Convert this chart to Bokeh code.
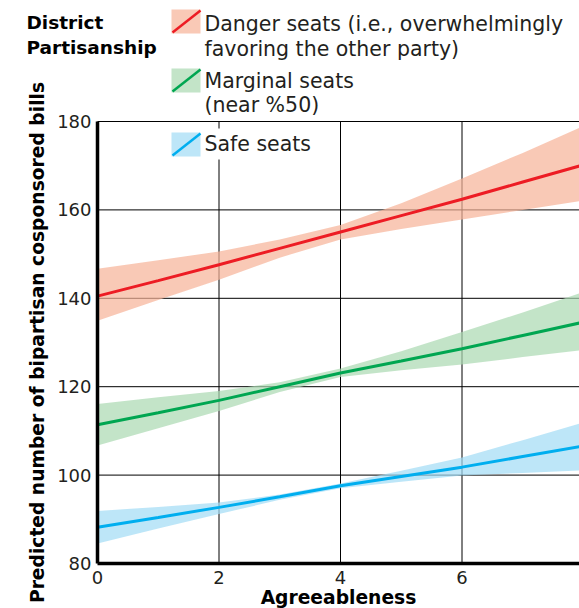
from bokeh.plotting import figure
from bokeh.models import Range1d, Label, BoxAnnotation, Arrow, FixedTicker
from bokeh.embed import file_html
from bokeh.resources import INLINE

# ---- data ----
agreeableness = [0, 1, 2, 3, 4, 5, 6, 7, 8]

danger_fit = [140.5, 144.0, 147.6, 151.3, 155.0, 158.7, 162.4, 166.3, 170.2]
danger_hi = [146.7, 148.6, 150.6, 153.3, 156.6, 161.5, 167.1, 172.9, 179.0]
danger_lo = [134.9, 139.6, 144.2, 149.2, 153.3, 155.7, 157.8, 160.0, 162.1]

marginal_fit = [111.4, 114.1, 116.9, 120.0, 123.1, 125.8, 128.6, 131.6, 134.6]
marginal_hi = [116.1, 117.6, 119.0, 121.0, 124.1, 128.0, 132.4, 136.8, 141.4]
marginal_lo = [106.7, 110.6, 114.5, 118.8, 122.2, 123.7, 125.0, 126.7, 128.3]

safe_fit = [88.2, 90.4, 92.7, 95.1, 97.6, 99.7, 101.8, 104.2, 106.6]
safe_hi = [91.9, 92.8, 93.8, 95.6, 98.1, 101.0, 104.0, 107.9, 111.9]
safe_lo = [84.5, 87.9, 91.2, 94.4, 97.0, 98.5, 99.9, 100.5, 101.1]

x_ticks = [0, 2, 4, 6, 8]
y_ticks = [80, 100, 120, 140, 160, 180]

legend_title = ["District", "Partisanship"]
legend_labels = [
    ["Danger seats (i.e., overwhelmingly", "favoring the other party)"],
    ["Marginal seats", "(near %50)"],
    ["Safe seats"],
]

line_colors = ["#ED1C24", "#00A651", "#00AEEF"]
band_colors = ["#F6B297", "#A9D8B0", "#A1DBF5"]
BAND_ALPHA = 0.7

FONT = "DejaVu Sans"
INK = "#231F20"

# ---- geometry (canvas px) ----
W, H = 579, 608
AX_X0_PX = 97.0      # where x = 0 sits
PX_PER_X = 60.75
AX_Y80_PX = 563.0    # where y = 80 sits
PX_PER_Y = 4.42
TEXT_SHIFT = 6.5     # label baseline correction

x_start = (0 - AX_X0_PX) / PX_PER_X
x_end = (W - AX_X0_PX) / PX_PER_X
y_start = 80 - (H - AX_Y80_PX) / PX_PER_Y
y_end = 80 + AX_Y80_PX / PX_PER_Y


def dx(px):
    return (px - AX_X0_PX) / PX_PER_X


def dy(py):
    return 80 + (AX_Y80_PX - py) / PX_PER_Y


p = figure(width=W, height=H, output_backend="svg", toolbar_location=None,
           x_range=Range1d(x_start, x_end), y_range=Range1d(y_start, y_end),
           min_border_left=0, min_border_right=0, min_border_top=0, min_border_bottom=0,
           title_location=None)
p.outline_line_color = None
p.background_fill_color = "white"
p.border_fill_color = "white"
p.xgrid.visible = False
p.ygrid.visible = False

# axes fixed at x = 0 and y = 80
p.xaxis.fixed_location = y_ticks[0]
p.yaxis.fixed_location = x_ticks[0]
p.xaxis.bounds = (x_ticks[0], x_ticks[-1])
p.yaxis.bounds = (y_ticks[0], y_ticks[-1])
p.xaxis.ticker = FixedTicker(ticks=x_ticks)
p.yaxis.ticker = FixedTicker(ticks=y_ticks)
for ax in (p.xaxis, p.yaxis):
    ax.axis_line_color = "black"
    ax.axis_line_width = 3.5
    ax.major_tick_line_color = None
    ax.minor_tick_line_color = None
    ax.major_tick_out = 0
    ax.major_tick_in = 0
    ax.major_label_text_font = FONT
    ax.major_label_text_font_size = "18px"
    ax.major_label_text_color = INK
    ax.axis_label_text_font = FONT
    ax.axis_label_text_font_style = "bold"
    ax.axis_label_text_color = "black"
p.xaxis.major_label_standoff = 7
p.yaxis.major_label_standoff = 6

p.yaxis.axis_label = "Predicted number of bipartisan cosponsored bills"
p.yaxis.axis_label_text_font_size = "18.7px"
p.yaxis.axis_label_standoff = 6
p.xaxis.axis_label = "Agreeableness"
p.xaxis.axis_label_text_font_size = "18.7px"
p.xaxis.axis_label_standoff = 0

# grid lines (only inside the axes box)
p.segment(x0=x_ticks[1:], y0=[y_ticks[0]] * 4, x1=x_ticks[1:], y1=[y_ticks[-1]] * 4,
          line_color="black", line_width=1)
p.segment(x0=[x_ticks[0]] * 5, y0=y_ticks[1:], x1=[x_ticks[-1]] * 5, y1=y_ticks[1:],
          line_color="black", line_width=1)

# bands and fits
series = [
    (danger_lo, danger_hi, danger_fit),
    (marginal_lo, marginal_hi, marginal_fit),
    (safe_lo, safe_hi, safe_fit),
]
for (lo, hi, fit), bc in zip(series, band_colors):
    p.varea(x=agreeableness, y1=lo, y2=hi, fill_color=bc, fill_alpha=BAND_ALPHA)
for (lo, hi, fit), lc in zip(series, line_colors):
    p.line(agreeableness, fit, line_color=lc, line_width=3)

# legend title
for txt, base in zip(legend_title, [28, 53]):
    p.add_layout(Label(x=dx(26), y=dy(base - TEXT_SHIFT), text=txt, text_font=FONT,
                       text_font_style="bold", text_font_size="18.5px", text_color="black",
                       text_baseline="alphabetic"))

# legend entries
sw_tops = [9, 68, 132]
text_bases = [[30, 55], [87, 111], [150]]
p.add_layout(BoxAnnotation(left=dx(168), right=dx(316), top=dy(128), bottom=dy(159),
                           fill_color="white", fill_alpha=1, line_color=None))
for i in range(3):
    t = sw_tops[i]
    p.add_layout(BoxAnnotation(left=dx(171), right=dx(200), top=dy(t), bottom=dy(t + 24),
                               fill_color=band_colors[i], fill_alpha=BAND_ALPHA, line_color=None))
    p.add_layout(Arrow(x_start=dx(172), y_start=dy(t + 23), x_end=dx(200), y_end=dy(t + 1),
                       end=None, line_color=line_colors[i], line_width=2.5))
    for txt, base in zip(legend_labels[i], text_bases[i]):
        p.add_layout(Label(x=dx(204), y=dy(base - TEXT_SHIFT), text=txt, text_font=FONT,
                           text_font_size="20.5px", text_color=INK, text_baseline="alphabetic"))

open("out.html", "w").write(file_html(p, INLINE))
